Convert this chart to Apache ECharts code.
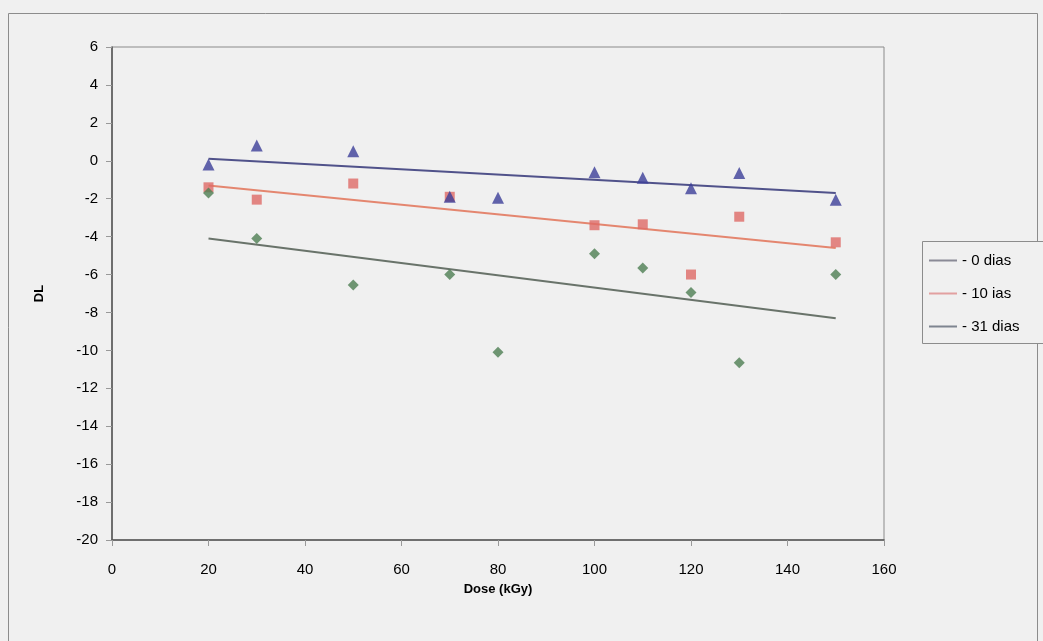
<!DOCTYPE html>
<html>
<head>
<meta charset="utf-8">
<script src="https://cdn.jsdelivr.net/npm/echarts@6/dist/echarts.min.js"></script>
<style>
    html, body { margin: 0; padding: 0; background: #f0f0f0; }
    #main { width: 1043px; height: 641px; }
</style>
</head>
<body>
<div id="main"></div>
<script>
    // doses (kGy) and measured DL for each storage time
    var doseTri = [20, 30, 50, 70, 80, 100, 110, 120, 130, 150]
    var dlTri = [-0.2, 0.8, 0.5, -1.9, -1.95, -0.6, -0.9, -1.45, -0.65, -2.05]
    var doseSq = [20, 30, 50, 70, 100, 110, 120, 130, 150]
    var dlSq = [-1.4, -2.05, -1.2, -1.9, -3.4, -3.35, -6.0, -2.95, -4.3]
    var doseDia = [20, 30, 50, 70, 80, 100, 110, 120, 130, 150]
    var dlDia = [-1.7, -4.1, -6.55, -6.0, -10.1, -4.9, -5.65, -6.95, -10.65, -6.0]

    // trend line end points
    var trendX = [20, 150]
    var trendTri = [0.1, -1.7]
    var trendSq = [-1.3, -4.6]
    var trendDia = [-4.1, -8.3]

    var legendNames = ['- 0 dias', '- 10 ias', '- 31 dias']
    var legendColors = ['#8a8a96', '#e2a0a0', '#7e8590']
    var yTicks = [6, 4, 2, 0, -2, -4, -6, -8, -10, -12, -14, -16, -18, -20]

    function pairs(xs, ys) {
        return xs.map(function (x, i) { return [x, ys[i]] })
    }

    var font = 'Liberation Sans, Arial, sans-serif'
    var myChart = echarts.init(document.getElementById('main'))
    var option = {
        backgroundColor: '#f0f0f0',
        animation: false,
        textStyle: { fontFamily: font },
        graphic: [
            {
                type: 'rect',
                shape: { x: 8.5, y: 13.5, width: 1029, height: 700 },
                style: { fill: 'none', stroke: '#8c8c8c', lineWidth: 1 },
                z: 0
            },
            {
                type: 'rect',
                shape: { x: 922.5, y: 241.5, width: 140, height: 102 },
                style: { fill: '#f0f0f0', stroke: '#8c8c8c', lineWidth: 1 },
                z: 1
            }
        ],
        legend: {
            orient: 'vertical',
            left: 924,
            top: 248,
            icon: 'rect',
            itemWidth: 28,
            itemHeight: 2,
            itemGap: 18,
            textStyle: { fontSize: 15, color: '#000', fontFamily: font },
            data: legendNames.map(function (n, i) {
                return { name: n, itemStyle: { color: legendColors[i] } }
            }),
            z: 5
        },
        grid: {
            left: 112,
            top: 47,
            width: 772,
            height: 493,
            show: true,
            borderColor: '#8a8a8a',
            borderWidth: 1,
            backgroundColor: 'transparent'
        },
        xAxis: {
            type: 'value',
            min: 0,
            max: 160,
            interval: 20,
            name: 'Dose (kGy)',
            nameLocation: 'middle',
            nameGap: 43,
            nameTextStyle: { fontSize: 13, fontWeight: 'bold', color: '#000', fontFamily: font },
            axisLine: { show: true, onZero: false, lineStyle: { color: '#555', width: 1.5 } },
            axisTick: { show: true, length: 6, lineStyle: { color: '#999' } },
            axisLabel: { fontSize: 15, color: '#000', margin: 22, fontFamily: font },
            splitLine: { show: false }
        },
        yAxis: {
            type: 'value',
            min: -20,
            max: 6,
            interval: 2,
            name: 'DL',
            nameLocation: 'middle',
            nameGap: 66,
            nameRotate: 90,
            nameTextStyle: { fontSize: 13, fontWeight: 'bold', color: '#000', fontFamily: font },
            axisLine: { show: true, onZero: false, lineStyle: { color: '#555', width: 1.5 } },
            axisTick: { show: true, length: 6, lineStyle: { color: '#999' } },
            axisLabel: {
                fontSize: 15, color: '#000', margin: 14, fontFamily: font,
                formatter: function (v) { return yTicks.indexOf(v) >= 0 ? String(v) : '' }
            },
            splitLine: { show: false }
        },
        series: [
            {
                name: legendNames[0],
                type: 'line',
                symbol: 'none',
                data: pairs(trendX, trendTri),
                lineStyle: { color: '#50528a', width: 2 },
                itemStyle: { color: legendColors[0] },
                z: 2
            },
            {
                name: legendNames[1],
                type: 'line',
                symbol: 'none',
                data: pairs(trendX, trendSq),
                lineStyle: { color: '#e4866f', width: 2 },
                itemStyle: { color: legendColors[1] },
                z: 2
            },
            {
                name: legendNames[2],
                type: 'line',
                symbol: 'none',
                data: pairs(trendX, trendDia),
                lineStyle: { color: '#69736a', width: 2 },
                itemStyle: { color: legendColors[2] },
                z: 2
            },
            {
                name: '0 dias',
                type: 'scatter',
                symbol: 'triangle',
                symbolSize: 12,
                itemStyle: { color: '#3c3f98' },
                data: pairs(doseTri, dlTri),
                z: 4
            },
            {
                name: '10 dias',
                type: 'scatter',
                symbol: 'rect',
                symbolSize: 10,
                itemStyle: { color: '#de6a66' },
                data: pairs(doseSq, dlSq),
                z: 3
            },
            {
                name: '31 dias',
                type: 'scatter',
                symbol: 'diamond',
                symbolSize: 11,
                itemStyle: { color: '#4e7e52' },
                data: pairs(doseDia, dlDia),
                z: 3
            }
        ]
    }
    myChart.setOption(option)
</script>
</body>
</html>
